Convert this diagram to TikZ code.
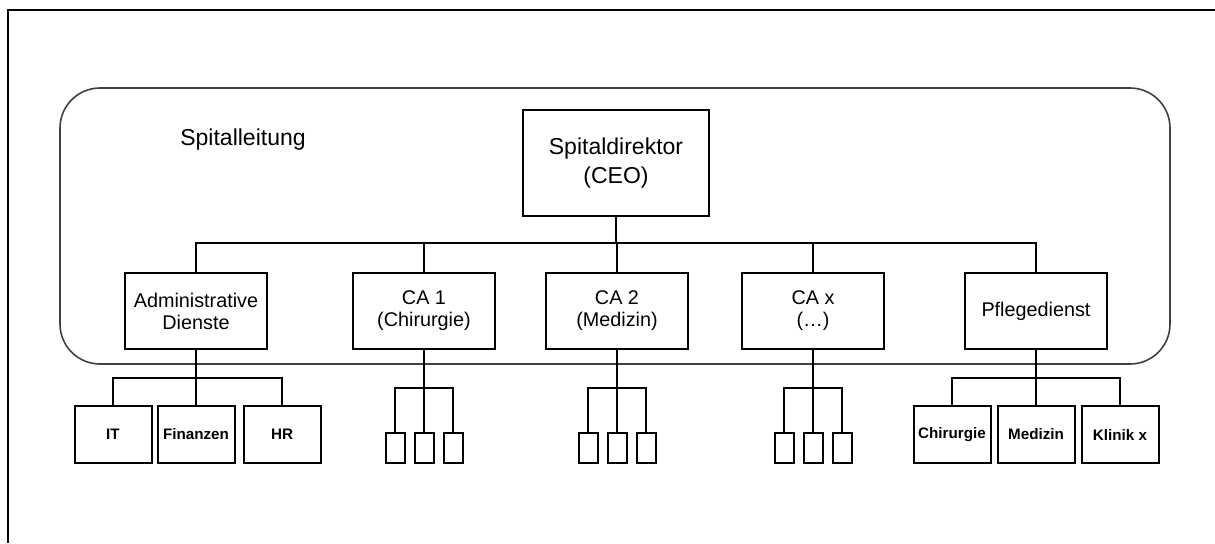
\documentclass[tikz,border=0pt]{standalone}
\usepackage{fontspec}
\setmainfont{Liberation Sans}
\usetikzlibrary{positioning}

\begin{document}
\begin{tikzpicture}[x=0.5pt, y=-0.5pt,
    box/.style={draw, line width=1pt, inner sep=0pt, align=center,
      minimum width=71pt, minimum height=38pt,
      font=\fontsize{9.9}{11}\selectfont},
    topbox/.style={box, minimum width=93pt, minimum height=53pt,
      font=\fontsize{11.5}{14.5}\selectfont},
    subbox/.style={box, minimum width=38.5pt, minimum height=28.5pt,
      font=\fontsize{7.6}{9}\selectfont\bfseries},
    leaf/.style={draw, line width=1pt, inner sep=0pt,
      minimum width=9.5pt, minimum height=15pt},
    link/.style={line width=1pt}]
    \useasboundingbox (0,0) rectangle (1215,543);
    % outer frame (cut off at the right and bottom)
    \draw[line width=1pt] (8,543) -- (8,10) -- (1215,10);
    % management area
    \draw[line width=0.8pt, black!75, rounded corners=20pt] (60,88) rectangle (1170,364);
    \node[font=\fontsize{11.5}{14}\selectfont] (leitung) at (243,140) {Spitalleitung};

    \node[topbox] (ceo) at (616,163) {Spitaldirektor\\(CEO)};

    \node[box] (admin)  at (196,311)  {Administrative\\Dienste};
    \node[box] (ca1)    at (424,311)  {CA 1\\(Chirurgie)};
    \node[box] (ca2)    at (617,311)  {CA 2\\(Medizin)};
    \node[box] (cax)    at (813,311)  {CA x\\(\dots)};
    \node[box] (pflege) at (1036,311) {Pflegedienst};

    \coordinate (bus) at (616,243);
    \draw[link] (ceo.south) -- (bus);
    \foreach \n in {admin,ca1,ca2,cax,pflege}
        \draw[link] (bus) -| (\n.north);

    % administrative services
    \node[subbox] (it)  at (113,434.5) {IT};
    \node[subbox] (fin) at (196,434.5) {Finanzen};
    \node[subbox] (hr)  at (282,434.5) {HR};
    \foreach \n in {it,fin,hr}
        \draw[link] (admin.south) -- ++(0,28) -| (\n.north);

    % nursing
    \node[subbox] (chir) at (952,434.5)  {Chirurgie};
    \node[subbox] (med)  at (1036,434.5) {Medizin};
    \node[subbox] (klin) at (1120,434.5) {Klinik x};
    \foreach \n in {chir,med,klin}
        \draw[link] (pflege.south) -- ++(0,28) -| (\n.north);

    % clinical units
    \foreach \c/\x in {ca1/424, ca2/617, cax/813} {
        \foreach \s/\dx in {a/-29, b/0, c/29} {
            \node[leaf] (\c\s) at (\x+\dx,448) {};
            \draw[link] (\c.south) -- ++(0,38) -| (\c\s.north);
        }
    }
\end{tikzpicture}
\end{document}
